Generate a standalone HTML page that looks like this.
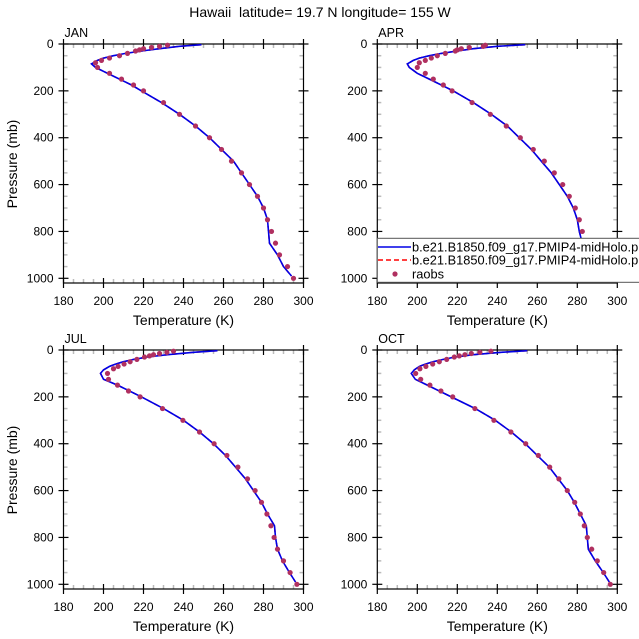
<!DOCTYPE html>
<html><head><meta charset="utf-8">
<style>
html,body{margin:0;padding:0;background:#fff;}
svg{display:block;font-family:"Liberation Sans",sans-serif;}
</style></head>
<body>
<svg id="chart" width="639" height="639" viewBox="0 0 639 639" xmlns="http://www.w3.org/2000/svg">
<text x="320" y="17" font-size="14" text-anchor="middle" style="white-space:pre">Hawaii&#160; latitude= 19.7 N longitude= 155 W</text>
</svg>
<script>
const months = ["JAN","APR","JUL","OCT"];
const modelLevels = [3,10,20,30,40,50,60,70,85,100,125,150,175,200,250,300,350,400,450,500,550,600,650,700,750,800,850,900,950,990];
const modelJAN = [249,238,228,219,211,205,200,197,194,196,202,208,214,219,229,238,246,253,259,265,269,273,277,280,282,282.5,283,287,290,294];
const modelAPR = [254,240,228,220,212,206,201,198,195,196,200,206,212,218,228,237,245,251,257,262,267,271,275,278,280,281,282.5,286,289.5,293];
const modelJUL = [257,245,232,222,215,210,206,203,200,198.5,200,207,213,219,230,240,248,255,261,266,271,275,279,282,285.5,286,287,289.5,293,296];
const modelOCT = [255,242,228,219,213,208,204,201,198.5,197,199,205,211,217,229,239,247,254,260,266,270.5,275,278.5,281.5,284.5,285,285.5,289,293,296];
const obsLevels = [5,10,15,20,25,30,40,50,60,70,80,100,125,150,175,200,250,300,350,400,450,500,550,600,650,700,750,800,850,900,950,1000];
const obsJAN = [232,228,224,220,218,216,212,208,203,199,196,197,203,209,215,220,230,238,246,253,259,264,269,273,277,280,282,284,286,288,292,295];
const obsAPR = [234,233,226,222,220,219,214,210,207,204,201,200,204,208,213,217.4,227.4,236.5,244.5,251.5,258,263.5,268.5,272.7,276,279,281,282.5,284.7,287.7,291,294.3];
const obsJUL = [235,231.7,228,225,223,220.5,216.7,213.3,210.3,207.3,205,202,202.5,207,212.5,218.3,229.5,239.7,248,255.3,261.7,267.2,272,275.8,279,281.7,283.7,285.3,287,290,293.3,296.7];
const obsOCT = [236.8,231.3,227,223.8,221,218.5,214.7,211,207.7,204.3,201.3,199.2,201.7,206.3,211.8,217.7,228.8,238.3,246.8,254.2,260.5,266.2,270.8,275,278.7,281.5,283.5,285,287.2,290,293.2,296.5];
const xTicks = [180,200,220,240,260,280,300];
const yTicks = [0,200,400,600,800,1000];
const models = [modelJAN,modelAPR,modelJUL,modelOCT];
const obs = [obsJAN,obsAPR,obsJUL,obsOCT];

const NS="http://www.w3.org/2000/svg";
const svg=document.getElementById('chart');
function mk(tag,attrs,parent){const e=document.createElementNS(NS,tag);for(const k in attrs)e.setAttribute(k,attrs[k]);(parent||svg).appendChild(e);return e;}
const panels=[{x0:63.5,y0:44},{x0:377.3,y0:44},{x0:63.5,y0:350},{x0:377.3,y0:350}];
const PW=240, PPX=0.2343, PH=239;
panels.forEach((pn,i)=>{
  const g=mk('g',{});
  
  
  const xs=t=>pn.x0+(t-180)*PW/120;
  const ys=p=>pn.y0+p*PPX;
  const yb=pn.y0+PH;
  for(let t=185;t<300;t+=5){if(t%20===0)continue;const x=xs(t);
    mk('line',{x1:x,x2:x,y1:yb,y2:yb-4,stroke:'#bbb','stroke-width':1.5},g);
    mk('line',{x1:x,x2:x,y1:pn.y0,y2:pn.y0+4,stroke:'#bbb','stroke-width':1.5},g);}
  for(let p=50;p<1020;p+=50){if(p%200===0)continue;const y=ys(p);
    mk('line',{x1:pn.x0,x2:pn.x0+4,y1:y,y2:y,stroke:'#bbb','stroke-width':1.5},g);
    mk('line',{x1:pn.x0+PW,x2:pn.x0+PW-4,y1:y,y2:y,stroke:'#bbb','stroke-width':1.5},g);}
  const fr=mk('rect',{x:pn.x0,y:pn.y0,width:PW,height:PH,fill:'none',stroke:'#000','stroke-width':1.2},g);
  
  
  xTicks.forEach(t=>{const x=xs(t);
    mk('line',{x1:x,x2:x,y1:yb+5,y2:yb-5,stroke:'#000','stroke-width':1.2},g);
    mk('line',{x1:x,x2:x,y1:pn.y0-5,y2:pn.y0+5,stroke:'#000','stroke-width':1.2},g);
    const tx=mk('text',{x:x,y:yb+22,'font-size':12,'text-anchor':'middle'},g);tx.textContent=t;
    
    });
  yTicks.forEach(p=>{const y=ys(p);
    mk('line',{x1:pn.x0-5,x2:pn.x0+5,y1:y,y2:y,stroke:'#000','stroke-width':1.2},g);
    mk('line',{x1:pn.x0+PW-5,x2:pn.x0+PW+5,y1:y,y2:y,stroke:'#000','stroke-width':1.2},g);
    const tx=mk('text',{x:pn.x0-10,y:y+4,'font-size':12,'text-anchor':'end'},g);tx.textContent=p;
    
    });
  const ml=mk('text',{x:pn.x0+1,y:pn.y0-7,'font-size':12.5},g);ml.textContent=months[i];
  
  
  const xt=mk('text',{x:pn.x0+PW/2,y:yb+42,'font-size':14,'text-anchor':'middle'},g);xt.textContent='Temperature (K)';
  
  
  if(i%2===0){const yt=mk('text',{x:0,y:0,'font-size':14,'text-anchor':'middle',transform:`translate(17,${pn.y0+120}) rotate(-90)`},g);yt.textContent='Pressure (mb)';
    
    }
  const pts=modelLevels.map((p,k)=>xs(models[i][k]).toFixed(1)+','+ys(p).toFixed(1)).join(' ');
  const red=mk('polyline',{points:pts,fill:'none',stroke:'#f00','stroke-width':1.5,'stroke-dasharray':'5,3'},g);
  
  
  const blue=mk('polyline',{points:pts,fill:'none',stroke:'#0000e6','stroke-width':1.6},g);
  
  
  obsLevels.forEach((p,k)=>{const c=mk('circle',{cx:xs(obs[i][k]),cy:ys(p),r:2.6,fill:'#b03060'},g);
    
    });
});
const lg=mk('g',{});


mk('rect',{x:377.3,y:238.3,width:270,height:44,fill:'#fff',stroke:'#555','stroke-width':1},lg);
const entries=[['b.e21.B1850.f09_g17.PMIP4-midHolo.pro','#0000e6',null,247],['b.e21.B1850.f09_g17.PMIP4-midHolo.pro','#f00','5,3',260],['raobs',null,null,274]];
entries.forEach(e=>{
  if(e[1]){const l=mk('line',{x1:378,x2:411,y1:e[3],y2:e[3],stroke:e[1],'stroke-width':1.5},lg);if(e[2])l.setAttribute('stroke-dasharray',e[2]);}
  else mk('circle',{cx:395,cy:e[3],r:2.6,fill:'#b03060'},lg);
  const t=mk('text',{x:412,y:e[3]+4.5,'font-size':12.8},lg);t.textContent=e[0];
  
  
});
</script>
</body></html>
